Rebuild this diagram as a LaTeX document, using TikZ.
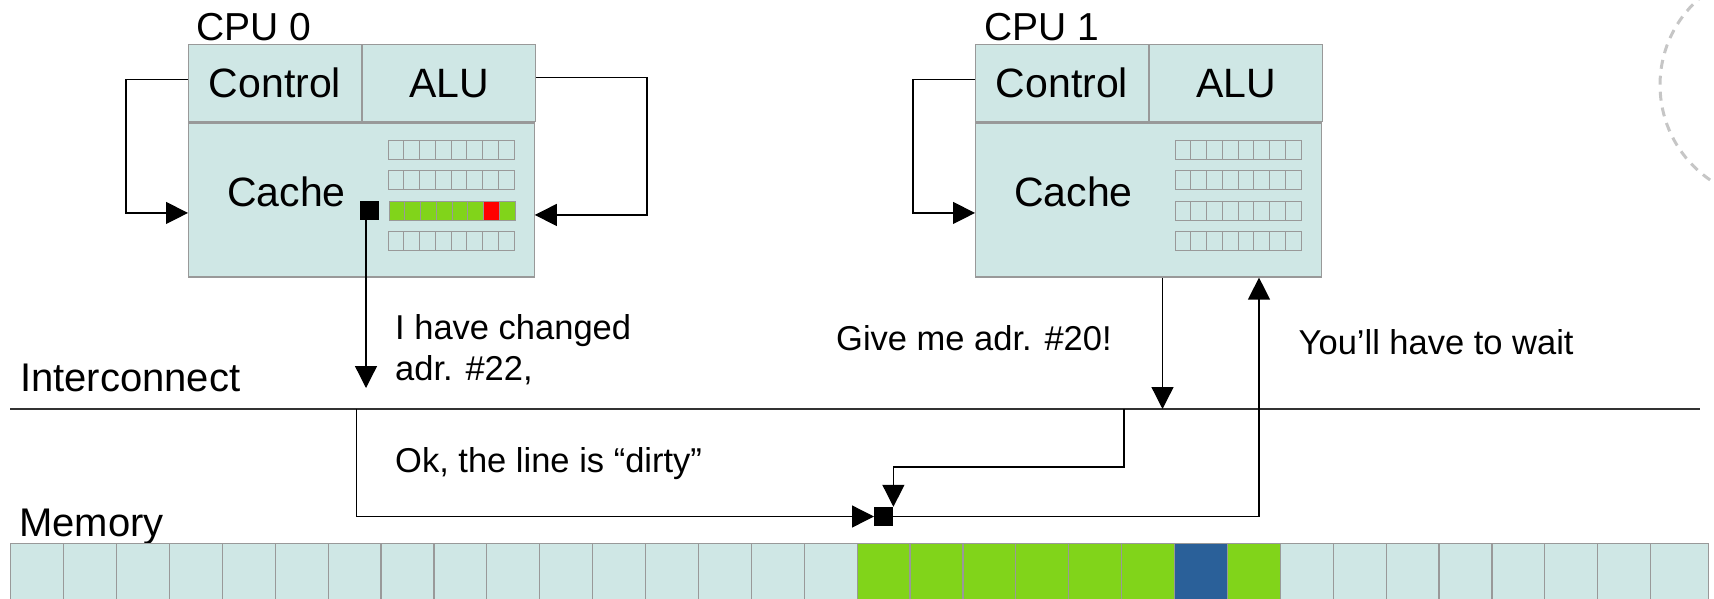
\documentclass[tikz,border=0pt]{standalone}
\usepackage{fontspec}
\setmainfont{Liberation Sans}
\usetikzlibrary{arrows.meta}
\definecolor{cellfill}{HTML}{CFE7E5}
\definecolor{linegreen}{HTML}{81D41A}
\definecolor{memblue}{HTML}{2A6099}
\definecolor{edgegray}{HTML}{999999}

\begin{document}
\begin{tikzpicture}[x=1pt,y=-1pt,
  part/.style={draw=edgegray,fill=cellfill,line width=1.3pt,inner sep=0pt,font=\fontsize{41}{49}\selectfont},
  bit/.style={draw=edgegray,line width=0.8pt,fill=cellfill},
  memcell/.style={draw=edgegray,line width=1.2pt,fill=cellfill},
  flag/.style={fill=black,minimum size=19pt,inner sep=0pt},
  wire/.style={line width=1.3pt},
  arr/.style={line width=1.3pt,-{Triangle[length=22pt,width=22pt]}},
  title/.style={font=\fontsize{39}{47}\selectfont,inner sep=0pt},
  big/.style={font=\fontsize{40}{48}\selectfont,inner sep=0pt},
  msg/.style={font=\fontsize{34.5}{41}\selectfont,inner sep=0pt}]

  \clip (0,0) rectangle (1714,598);

  % CPU 0
  \node [part,anchor=north west,minimum width=172.5pt,minimum height=77pt] (ctl0) at (188,44) {Control};
  \node [part,anchor=north west,minimum width=173pt,minimum height=77pt] (alu0) at (ctl0.north east) {ALU};
  \node [part,anchor=north west,minimum width=345.5pt,minimum height=154pt] (cache0) at (ctl0.south west) {};
  \node [title,anchor=base west] (cpu0) at (196,40.5) {CPU 0};
  \node [part,draw=none,fill=none,anchor=base] (clbl0) at (286.5,206) {Cache};
  \foreach \r in {0,1,3}
    \foreach \c in {0,...,7}
      \draw [bit] (388+\c*15.75,140+\r*30.5) rectangle ++(15.75,19);
  \foreach \c in {0,...,7}
    \draw [bit,fill=linegreen] (389+\c*15.75,201) rectangle ++(15.75,19);
  \draw [bit,fill=red] (389+6*15.75,201) rectangle ++(15.75,19);
  \node [flag] (sq0) at (369.5,210.5) {};

  \draw [arr] ([yshift=4pt]ctl0.west) -- ++(-62,0) |- ([yshift=-13pt]cache0.west);
  \draw [arr] ([yshift=6pt]alu0.east) -- ++(111,0) |- ([yshift=-15pt]cache0.east);

  % CPU 1
  \node [part,anchor=north west,minimum width=172.5pt,minimum height=77pt] (ctl1) at (975,44) {Control};
  \node [part,anchor=north west,minimum width=173pt,minimum height=77pt] (alu1) at (ctl1.north east) {ALU};
  \node [part,anchor=north west,minimum width=345.5pt,minimum height=154pt] (cache1) at (ctl1.south west) {};
  \node [title,anchor=base west] (cpu1) at (984,40.5) {CPU 1};
  \node [part,draw=none,fill=none,anchor=base] (clbl1) at (1073.5,206) {Cache};
  \foreach \r in {0,...,3}
    \foreach \c in {0,...,7}
      \draw [bit] (1175+\c*15.75,140+\r*30.5) rectangle ++(15.75,19);

  \draw [arr] ([yshift=4pt]ctl1.west) -- ++(-62,0) |- ([yshift=-13pt]cache1.west);

  % interconnect
  \coordinate (busw) at (10,409);
  \coordinate (buse) at (1700,409);
  \draw [wire,black!80] (busw) -- (buse);
  \node [big,anchor=base west] (iclbl) at (20,391.5) {Interconnect};

  \coordinate (drop0) at (366,388);
  \draw [arr] (sq0.south -| drop0) -- (drop0);
  \node [msg,align=left,anchor=north west] (msgA) at (395,314) {I have changed\\adr. \#22,};
  \node [msg,anchor=base west] (msgB) at (395,472.5) {Ok, the line is “dirty”};
  \node [msg,anchor=base west] (msgC) at (836,350) {Give me adr. \#20!};
  \node [msg,anchor=base west] (msgD) at (1298.5,354) {You’ll have to wait};

  \node [flag] (msq) at (883.7,516.5) {};
  \coordinate (tap0) at (356.5,409);
  \draw [arr] (tap0) |- (msq.west);
  \coordinate (req1) at (1162.5,409);
  \draw [arr] (cache1.south -| req1) -- (req1);
  \coordinate (tap1) at (1124,409);
  \draw [arr] (tap1) -- ++(0,58) -| (msq.north east);
  \coordinate (ans1) at (1259,512.5);
  \draw [arr] (msq.east) -| (cache1.south -| ans1);

  % memory
  \node [big,anchor=base west] (memlbl) at (19,536.5) {Memory};
  \foreach \i in {0,...,30}
    \draw [memcell] (10.7+\i*52.9,543.3) rectangle ++(52.9,60);
  \draw [memcell] (10.7+31*52.9,543.3) rectangle (1708.3,603.3);
  \foreach \i in {16,...,23}
    \draw [memcell,fill=linegreen] (10.7+\i*52.9,543.3) rectangle ++(52.9,60);
  \draw [memcell,fill=memblue] (10.7+22*52.9,543.3) rectangle ++(52.9,60);

  \draw [gray!45,line width=3pt,dash pattern=on 9pt off 7pt] (1775,85) circle [radius=115pt];
\end{tikzpicture}
\end{document}
